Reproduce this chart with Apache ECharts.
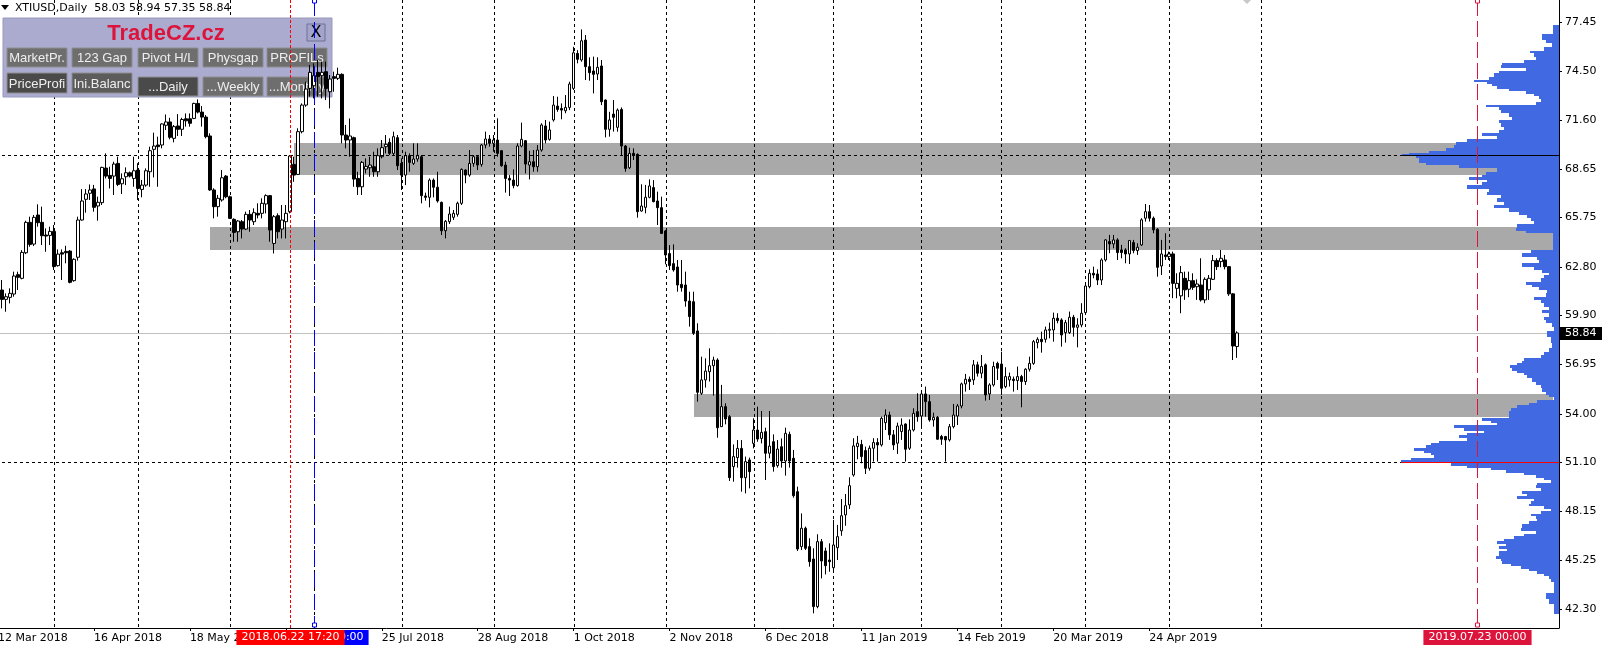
<!DOCTYPE html>
<html><head><meta charset="utf-8">
<script src="https://cdn.jsdelivr.net/npm/echarts@6/dist/echarts.min.js"></script>
<style>html,body{margin:0;padding:0;background:#fff;overflow:hidden;}#c{position:absolute;left:-5px;top:0;width:1610px;height:646px;}</style>
</head><body><div id="c"></div>
<script>
// ---------- DATA ----------
const startDate = '2018-03-12';
const firstCandleDate = '2018-03-13';
const holidays = ['2018-03-30','2018-12-25','2019-01-01','2019-04-19'];
const categoryCount = 391;
const symbolTitle = 'XTIUSD,Daily';
// daily candles [open, high, low, close]
const candles = [
[61.41,62.01,60.31,60.85],[60.85,61.21,60.11,61.01],[60.97,61.51,60.61,61.21],[61.17,62.51,61.01,62.25],[62.33,62.51,61.41,62.17],
[62.11,63.80,62.05,63.66],[63.64,65.56,63.56,65.46],[65.46,65.80,64.00,64.14],[64.16,65.90,64.04,65.76],[65.90,66.54,65.20,65.44],
[65.46,66.40,64.10,64.66],[64.70,65.10,63.70,64.64],[64.68,65.20,64.10,64.92],[64.92,65.30,62.61,62.81],[62.87,63.84,62.81,63.56],
[63.64,63.84,62.01,63.56],[63.72,64.06,63.01,63.64],[63.74,63.80,61.81,61.87],[61.97,63.31,61.91,63.25],[63.37,65.80,63.17,65.60],
[65.60,67.45,65.56,66.74],[66.84,67.45,66.04,67.16],[67.20,67.73,66.80,67.40],[67.46,67.70,66.10,66.36],[66.44,67.00,65.56,66.66],
[66.64,68.79,66.50,68.75],[68.71,69.59,68.09,68.23],[68.27,68.79,67.49,68.09],[68.23,69.09,67.10,68.95],[68.99,69.39,67.63,67.73],
[67.77,68.39,67.16,68.07],[68.19,68.75,67.69,68.43],[68.43,68.50,68.15,68.23],[68.09,69.39,67.59,68.55],[68.59,69.00,66.80,67.49],
[67.43,68.00,66.96,67.69],[67.69,68.69,67.59,68.55],[68.49,69.99,67.59,69.75],[69.83,70.83,68.15,70.03],[70.09,70.59,67.59,69.99],
[70.09,71.39,69.89,71.35],[71.27,71.92,70.99,71.47],[71.47,71.72,70.43,70.55],[70.49,71.29,70.25,71.19],[71.23,71.94,70.63,71.03],
[71.03,71.72,70.63,71.62],[71.66,71.98,71.19,71.54],[71.66,71.98,71.19,71.39],[71.68,72.62,71.64,72.58],[72.58,72.82,71.98,72.06],
[72.06,72.42,71.19,71.76],[71.76,71.88,70.49,70.59],[70.63,70.79,67.35,67.40],[67.40,67.50,65.70,66.40],[66.40,67.10,65.80,66.90],
[66.80,68.59,66.70,68.13],[68.23,68.29,66.90,66.99],[66.99,67.06,65.66,65.70],[65.64,65.70,64.30,64.86],[64.90,65.60,64.30,65.54],
[65.50,65.60,64.50,65.06],[65.06,66.10,65.00,65.94],[65.94,66.20,64.90,65.60],[65.50,66.30,65.30,66.04],[66.00,66.60,65.70,65.90],
[66.00,66.90,65.70,66.60],[66.56,67.14,66.00,67.06],[67.06,67.10,64.30,65.00],[64.20,65.90,63.60,65.80],[65.86,66.00,64.50,64.90],
[65.06,66.50,64.50,65.60],[65.50,66.50,64.50,66.00],[66.10,69.49,66.00,69.43],[68.93,69.39,67.89,68.29],[68.33,71.09,68.29,70.89],
[70.89,72.58,70.79,72.48],[72.48,73.88,72.38,73.44],[73.48,74.88,72.98,74.44],[73.64,74.98,72.88,74.24],[74.44,75.18,72.98,74.18],
[74.24,75.08,72.88,74.44],[74.48,75.08,72.78,73.48],[73.28,74.28,72.28,74.04],[74.18,74.48,73.28,74.08],[74.08,74.72,73.98,74.32],
[74.32,74.38,70.19,70.69],[70.69,71.29,69.89,70.39],[70.39,71.68,69.39,70.63],[70.53,70.59,67.59,68.05],[68.09,68.49,67.10,67.59],
[67.59,69.13,67.10,69.05],[68.65,69.29,68.39,68.81],[68.73,69.39,68.19,68.89],[68.79,69.69,68.19,68.49],[68.49,69.89,68.19,69.45],
[69.39,70.39,69.29,69.93],[69.99,70.69,69.59,70.13],[70.25,70.49,69.49,69.59],[69.59,70.89,69.49,70.59],[70.53,70.69,68.59,68.85],
[68.99,69.29,67.40,68.29],[68.29,69.69,67.69,69.45],[69.45,69.59,68.49,69.05],[68.99,70.19,68.89,69.25],[69.25,70.19,69.09,69.45],
[69.39,69.49,66.60,67.06],[67.04,67.24,66.76,66.96],[66.96,68.09,66.36,67.99],[67.99,68.09,66.96,67.56],[67.56,68.49,66.64,66.74],
[66.66,66.70,64.70,64.96],[64.96,65.60,64.50,65.52],[65.50,66.40,65.36,65.96],[65.76,66.20,65.60,66.00],[65.94,66.70,65.80,66.60],
[66.60,68.69,66.50,68.63],[68.59,68.63,67.80,68.29],[68.29,69.79,68.19,68.99],[68.99,69.49,68.79,69.39],[69.39,69.49,68.59,68.89],
[68.93,70.15,68.79,70.09],[70.09,70.89,69.89,70.45],[70.45,70.69,69.99,70.19],[70.19,70.69,69.69,70.39],[70.39,71.69,69.39,69.59],
[69.75,69.79,68.79,68.85],[68.89,69.09,67.24,68.09],[68.09,68.29,67.04,67.99],[67.99,68.63,67.50,67.66],[67.66,70.19,67.60,70.03],
[70.03,71.43,69.95,70.43],[70.35,70.39,68.39,68.95],[68.89,69.75,68.03,69.09],[69.09,69.79,68.49,68.79],[68.79,70.09,68.49,69.79],
[69.79,71.39,69.69,71.29],[71.23,71.59,70.19,70.39],[70.43,71.49,70.35,70.99],[71.59,73.02,71.49,72.48],[72.42,72.98,72.08,72.22],
[72.28,72.58,71.63,72.18],[72.14,73.08,71.99,72.34],[72.34,73.88,72.18,73.74],[73.48,75.97,73.38,75.61],[75.57,75.77,74.98,75.22],
[75.18,77.01,75.08,76.33],[76.37,76.67,73.98,74.78],[74.78,75.34,73.94,74.42],[74.52,75.38,73.18,74.32],[74.34,75.34,73.98,74.74],
[74.82,75.18,72.48,72.68],[72.78,72.82,70.55,71.03],[71.03,72.08,70.59,71.59],[71.94,72.78,70.89,71.75],[71.15,72.28,70.89,72.18],
[72.22,72.34,69.49,70.03],[70.03,70.09,68.49,68.69],[68.73,69.93,68.65,69.59],[69.59,69.89,69.19,69.49],[69.53,69.59,65.74,66.10],
[66.14,67.74,66.10,66.44],[66.36,67.70,66.00,66.96],[66.96,68.03,66.90,67.64],[67.54,67.99,66.66,66.70],[66.74,67.30,65.30,66.34],
[66.34,67.00,64.80,64.80],[64.94,65.00,62.95,63.51],[63.59,64.10,62.61,62.87],[62.99,64.14,62.51,62.61],[62.79,63.21,61.31,61.71],
[61.75,63.21,61.31,61.55],[61.71,62.51,60.41,60.75],[60.75,61.31,59.22,59.82],[60.71,61.31,58.72,58.82],[58.96,59.42,54.73,55.29],
[55.23,57.42,55.13,56.03],[56.03,57.32,55.57,56.56],[56.52,57.92,55.93,56.88],[56.88,57.42,55.09,57.22],[57.22,57.32,52.57,53.17],
[53.23,55.73,53.23,54.43],[54.43,54.63,53.37,53.69],[53.83,53.93,49.98,50.18],[50.84,52.17,49.94,51.44],[51.38,52.43,50.78,51.93],
[51.93,52.43,49.34,50.18],[50.18,51.44,49.24,51.14],[51.24,51.38,49.54,50.54],[52.23,53.73,51.93,53.03],[53.03,54.43,52.33,52.49],
[52.53,54.17,52.23,52.89],[52.93,53.17,50.04,51.64],[51.64,54.17,51.34,52.07],[52.33,52.77,50.54,50.84],[50.90,52.43,50.78,51.89],
[52.03,52.53,50.78,51.18],[51.18,53.17,50.30,52.83],[52.77,52.93,50.78,51.18],[51.34,51.84,48.98,49.10],[49.34,49.64,45.79,45.91],
[46.05,48.04,45.85,47.15],[47.15,47.25,45.85,45.95],[46.05,46.55,44.85,45.15],[45.31,45.95,42.06,42.46],[42.46,46.79,42.36,46.35],
[46.35,46.51,44.15,45.19],[45.79,45.99,44.39,44.91],[45.25,46.25,44.55,45.15],[44.79,47.65,44.55,46.15],[45.99,47.35,45.25,46.65],
[47.00,48.90,46.70,47.90],[47.95,49.20,47.30,48.50],[48.55,50.20,48.30,49.70],[50.34,52.54,50.24,52.08],[52.04,52.68,51.28,52.24],
[52.16,52.44,51.04,51.44],[51.80,52.04,50.40,50.74],[50.74,52.10,50.60,51.94],[51.94,52.54,51.14,52.28],[52.28,52.54,51.14,52.14],
[52.14,53.83,52.04,53.73],[53.47,54.27,53.03,53.93],[53.93,54.13,52.44,52.74],[52.74,53.03,51.84,52.14],[52.24,53.47,51.60,53.27],
[52.94,53.73,52.44,53.33],[53.39,53.43,51.14,51.88],[51.94,53.67,51.84,53.03],[53.03,54.33,52.94,54.03],[54.13,55.23,53.53,53.83],
[53.87,55.27,53.23,55.19],[55.19,55.63,53.83,54.73],[54.73,55.13,53.53,53.63],[53.63,54.07,53.23,53.79],[53.79,53.87,52.44,52.48],
[52.64,52.74,52.14,52.48],[52.64,52.68,51.14,52.44],[52.44,53.39,52.34,53.23],[53.23,54.59,53.13,53.93],[53.87,54.59,53.33,54.47],
[54.47,55.87,54.33,55.79],[55.79,56.39,55.33,56.07],[56.07,56.23,55.43,55.93],[56.03,57.22,55.73,56.93],[56.93,57.12,56.23,56.43],
[56.43,57.52,56.13,56.83],[56.93,57.02,54.79,55.13],[55.19,55.83,54.83,55.73],[55.73,57.12,55.63,56.83],[57.02,57.12,56.03,56.73],
[56.98,57.72,55.13,55.53],[55.63,56.79,55.53,56.23],[56.03,56.47,55.63,56.23],[56.07,56.23,55.33,55.99],[55.99,56.83,55.43,56.23],
[56.23,56.33,54.39,55.93],[55.93,56.73,55.73,56.67],[56.67,57.42,56.53,57.02],[57.02,58.42,56.93,58.32],[58.26,58.58,57.92,58.46],
[58.46,58.92,57.66,58.32],[58.46,59.22,58.26,59.02],[59.00,59.46,58.52,59.06],[59.02,60.06,58.32,59.72],[59.72,60.02,59.42,59.58],
[59.62,59.72,58.02,58.72],[58.86,59.62,58.26,59.46],[58.86,60.12,58.78,59.78],[59.78,59.92,58.62,59.18],[59.18,59.72,57.98,59.32],
[59.32,60.62,59.18,60.02],[60.06,61.71,59.98,61.65],[61.61,62.65,61.51,62.41],[62.41,62.81,62.11,62.31],[62.37,62.65,61.71,62.01],
[62.01,63.31,61.71,63.21],[63.21,64.45,63.11,64.41],[64.31,64.71,63.61,64.17],[64.17,64.71,63.91,64.41],[64.41,64.51,63.21,63.65],
[63.81,64.11,63.31,63.65],[63.81,63.91,63.01,63.57],[63.57,64.41,62.97,64.37],[64.25,64.41,63.61,63.77],[63.77,64.21,63.51,63.97],
[64.11,65.71,64.05,65.61],[65.71,66.56,65.51,66.10],[66.10,66.50,65.51,65.71],[65.71,65.81,64.81,65.01],[65.05,65.11,62.21,62.77],
[62.85,64.41,62.31,63.57],[63.51,64.81,63.21,63.41],[63.41,63.71,63.21,63.57],[63.57,63.71,60.92,61.81],[61.51,62.41,60.92,61.81],
[61.06,62.85,60.02,62.45],[62.11,62.51,60.82,61.42],[61.46,62.51,60.98,61.97],[61.97,62.41,61.42,61.57],[61.61,62.05,60.82,61.77],
[61.71,63.31,60.72,60.82],[60.82,62.17,60.62,62.05],[61.42,62.31,60.82,62.11],[62.05,63.51,62.01,63.17],[63.17,63.31,62.61,62.81],
[63.11,63.81,62.77,63.31],[63.21,63.51,62.65,62.81],[62.81,62.85,61.06,61.18],[61.18,61.22,57.22,58.06],[58.03,58.94,57.35,58.84]
];
const priceTicks = [77.45,74.50,71.60,68.65,65.75,62.80,59.90,56.95,54.00,51.10,48.15,45.25,42.30];
const dateLabels = ['2018-03-12','2018-04-16','2018-05-18','2018-06-21','2018-07-25','2018-08-28','2018-10-01','2018-11-02','2018-12-06','2019-01-11','2019-02-14','2019-03-20','2019-04-24'];
const gridDates = ['2018-04-02','2018-05-01','2018-06-01','2018-07-02','2018-08-01','2018-09-03','2018-10-01','2018-11-01','2018-12-03','2019-01-02','2019-02-01','2019-03-01','2019-04-01','2019-05-01','2019-06-03'];
// supply/demand zones: [start date, end date, low, high]
const zones = [
  ['2018-06-25','2019-09-12',68.30,70.22],
  ['2018-05-25','2019-09-12',63.83,65.21],
  ['2018-11-12','2019-09-12',53.80,55.16]
];
const pocLevels = [69.49, 51.10];
const pocColors = ['#000000','#FF0000'];
const lastPrice = 58.84;
// vertical line objects
const vLineDates = ['2018-07-02','2018-06-22','2019-08-16'];
const vLineTexts = ['2018.07.02 00:00','2018.06.22 17:20','2019.07.23 00:00'];
// volume profile (price level, volume)
const profilePrices = [77.01,76.47,76.27,76.07,75.81,75.67,75.48,75.28,75.08,74.94,74.78,74.58,74.48,74.28,74.08,73.94,73.82,73.68,73.54,73.38,73.22,73.08,72.94,72.78,72.58,72.42,72.28,72.08,71.88,71.68,71.49,71.29,71.09,70.89,70.69,70.55,70.35,70.19,69.99,69.83,69.69,69.59,69.49,69.39,69.23,69.09,68.95,68.79,68.59,68.39,68.23,68.09,67.95,67.78,67.56,67.40,67.20,67.00,66.80,66.60,66.40,66.20,66.00,65.80,65.60,65.44,65.24,65.04,64.90,64.70,64.50,64.30,64.10,63.90,63.70,63.50,63.31,63.11,62.91,62.71,62.51,62.37,62.21,62.01,61.81,61.65,61.51,61.31,61.11,60.91,60.71,60.51,60.31,60.11,59.91,59.71,59.51,59.32,59.12,58.82,58.42,58.02,57.82,57.62,57.42,57.26,57.12,56.98,56.82,56.66,56.52,56.38,56.22,56.02,55.82,55.62,55.42,55.23,55.07,54.89,54.73,54.59,54.43,54.27,54.07,53.83,53.67,53.53,53.39,53.23,53.07,52.93,52.79,52.63,52.47,52.33,52.19,52.03,51.87,51.73,51.60,51.44,51.28,51.14,50.97,50.84,50.68,50.54,50.40,50.24,50.08,49.94,49.80,49.64,49.44,49.28,49.14,49.00,48.84,48.68,48.54,48.40,48.24,48.08,47.94,47.81,47.65,47.49,47.29,47.09,46.89,46.75,46.61,46.45,46.29,46.15,46.01,45.85,45.69,45.55,45.41,45.25,45.09,44.95,44.81,44.65,44.49,44.35,44.21,44.01,43.81,43.46,43.06,42.76,42.46,42.16];
const profileVolumes = [5.7,16.7,12.7,6.7,15,29.3,25,23.3,35,56.7,58.3,33.3,60,65,70,85,71.7,66.7,61.7,50,33.3,25,20,18.3,23.3,73.3,60,58.3,50,46.7,60,58.3,55,60,76.7,61.7,91.7,103.3,105,113.3,130,150,156.7,143.3,140,140,133.3,100,61.7,73.3,76.7,90,71.7,76.7,91.7,70,71.7,58.3,61.7,55,65,50,40,31.7,28.3,25,41.7,43.3,33.3,5.7,5.7,5.7,5.7,5.7,28,36.7,21.7,20,36.7,25,16.7,10,15,18.3,33.3,26.7,20,11.7,13.3,25,18.3,15,10,16.7,10,15,13.3,6.7,5,11.7,8.3,6.7,10,15,18.3,35,36.7,41.7,49,46.7,41.7,35,31.7,26.7,23.3,18.3,16.7,13.3,10,5,21.7,30,41.7,48.3,50,50,76.7,68.3,61.7,105,95,75,91.7,100,91.7,120,128.3,133.3,145,135,128.3,125,148.3,157.7,108.3,91.7,68.3,53.3,35,23.3,15,8.3,21.7,23.3,18.3,36.7,31.7,41.7,25,28.3,30,15,8.3,18.3,28.3,23.3,21.7,30,36.7,38.3,23.3,35,45,55,61.7,53.3,60,51.7,60,60,63.3,58.3,56.7,48.3,38.3,30,21.7,15,10,8.3,5,5,13.3,10,5,5];
const panelTitle = 'TradeCZ.cz';
const panelButtons = [['MarketPr.','123 Gap','Pivot H/L','Physgap','PROFILs'],['PriceProfile','Ini.Balance','...Daily','...Weekly','...Monthly']];

// ---------- BUILD ----------
const FONT = '"DejaVu Sans", sans-serif';
const OX = 5; // chart canvas starts 5px left of the page
function buildCategories(){
  const out=[]; const d=new Date(startDate+'T00:00:00Z');
  while(out.length<categoryCount){
    const s=d.toISOString().slice(0,10), w=d.getUTCDay();
    if(w!==0&&w!==6&&holidays.indexOf(s)<0) out.push(s);
    d.setUTCDate(d.getUTCDate()+1);
  }
  return out;
}
const categories = buildCategories();
const ci = s => categories.indexOf(s);
const c0 = ci(firstCandleDate);
const candleData = categories.map((c,i)=>{
  const k=i-c0; if(k<0||k>=candles.length) return '-';
  const r=candles[k]; return [r[0],r[3],r[2],r[1]];
});
const MON=['Jan','Feb','Mar','Apr','May','Jun','Jul','Aug','Sep','Oct','Nov','Dec'];
const fmtDate = s => { const p=s.split('-'); return (+p[2])+' '+MON[+p[1]-1]+' '+p[0]; };
const labelSet = new Set(dateLabels);
const showLabel = (idx, val) => labelSet.has(val);

const profileData = profilePrices.map((p,k)=>{
  const up = k===0 ? p+(p-profilePrices[1])/2 : (profilePrices[k-1]+p)/2;
  const dn = k===profilePrices.length-1 ? p-(profilePrices[k-1]-p)/2 : (p+profilePrices[k+1])/2;
  return [profileVolumes[k], dn, up];
});
function volAt(price){
  let best=0, bd=1e9;
  profilePrices.forEach((p,k)=>{const d=Math.abs(p-price); if(d<bd){bd=d;best=profileVolumes[k];}});
  return best;
}
const last = candles[candles.length-1];
const headerText = symbolTitle+'  '+last.map(v=>v.toFixed(2)).join(' ');

const GRID_W = 1564;
const chart = echarts.init(document.getElementById('c'), null, {renderer:'canvas', width:1610, height:646});

// panel graphic (page coordinates + OX)
const els = [];
els.push({type:'rect', z:3, shape:{x:OX+3,y:18,width:329,height:79}, style:{fill:'#AAABCF', stroke:'#9899BE', lineWidth:1}});
els.push({type:'text', z:3, style:{text:panelTitle, x:OX+166, y:34, font:'bold 22px "Liberation Sans", Arial, sans-serif', fill:'#DC143C', align:'center', verticalAlign:'middle'}});
els.push({type:'rect', z:3, shape:{x:OX+307,y:24,width:18,height:17}, style:{fill:'#A3A4CA', stroke:'#6F7096', lineWidth:1}});
els.push({type:'text', z:3, style:{text:'X', x:OX+316, y:33, font:'16px "DejaVu Sans", sans-serif', fill:'#000', align:'center', verticalAlign:'middle'}});
const bxs=[7,72,138,203,267];
const rowStyle=[
  [{y:48,h:19,f:'#6E6E6E'},{y:48,h:19,f:'#6E6E6E'},{y:48,h:19,f:'#6E6E6E'},{y:48,h:19,f:'#6E6E6E'},{y:48,h:19,f:'#6E6E6E'}],
  [{y:73,h:20,f:'#4A4A4A'},{y:73,h:20,f:'#5C5C5C'},{y:77,h:19,f:'#4A4A4A'},{y:77,h:19,f:'#6E6E6E'},{y:77,h:19,f:'#6E6E6E'}]
];
panelButtons.forEach((row,r)=>row.forEach((t,k)=>{
  const s=rowStyle[r][k];
  els.push({type:'rect', z:3, shape:{x:OX+bxs[k],y:s.y,width:60,height:s.h}, style:{fill:s.f, stroke:'#8E8E8E', lineWidth:1}});
  els.push({type:'text', z:3, style:{text:t, x:OX+bxs[k]+30, y:s.y+s.h/2+1, width:60, overflow:'truncate', ellipsis:'', font:'13px "Liberation Sans", Arial, sans-serif', fill:'#EEEEEE', align:'center', verticalAlign:'middle'}});
}));
els.push({type:'polygon', z:10, shape:{points:[[OX+1,5],[OX+9,5],[OX+5,10]]}, style:{fill:'#000'}});
els.push({type:'text', z:10, style:{text:headerText, x:OX+15, y:8, font:'11px '+FONT, fill:'#000', verticalAlign:'middle'}});
els.push({type:'polygon', z:10, shape:{points:[[OX+1243,0],[OX+1247,-4],[OX+1251,0],[OX+1247,4]]}, style:{fill:'#C8C8C8'}});

const option = {
  animation:false,
  backgroundColor:'#ffffff',
  grid:{left:0, right:46, top:0, bottom:18, containLabel:false},
  xAxis:[{
    type:'category', data:categories, boundaryGap:true,
    axisLine:{show:true, onZero:false, lineStyle:{color:'#000', width:1}},
    axisTick:{show:true, interval:showLabel, alignWithLabel:true, length:3, lineStyle:{color:'#000'}},
    axisLabel:{interval:showLabel, formatter:fmtDate, align:'left', color:'#000', fontFamily:FONT, fontSize:11, margin:5},
    splitLine:{show:false}
  },{
    type:'value', min:0, max:GRID_W, inverse:true, show:false, position:'top'
  }],
  yAxis:[{
    type:'value', position:'right', min:41.18, max:78.77,
    axisLine:{show:true, lineStyle:{color:'#000', width:1}},
    axisTick:{show:true, customValues:priceTicks, length:3, lineStyle:{color:'#000'}},
    axisLabel:{customValues:priceTicks, formatter:v=>v.toFixed(2), color:'#000', fontFamily:FONT, fontSize:11, margin:6},
    splitLine:{show:false}
  }],
  graphic:{elements:els},
  series:[
    { // zones
      type:'custom', z:0, silent:true, xAxisIndex:0, yAxisIndex:0,
      data: zones.map(z=>[ci(z[0]), ci(z[1]), z[3], z[2]]),
      encode:{x:[0,1], y:[2,3]},
      renderItem:(params, api)=>{
        const a=api.coord([api.value(0), api.value(2)]);
        const b=api.coord([api.value(1), api.value(3)]);
        const x=Math.round(a[0]), y=Math.round(a[1]);
        return {type:'rect', shape:{x:x, y:y, width:Math.round(b[0])-x, height:Math.round(b[1])-y}, style:{fill:'#A9A9A9'}};
      }
    },
    { // vertical month grid lines
      type:'custom', z:1, silent:true, xAxisIndex:0, yAxisIndex:0,
      data: gridDates.map(d=>[ci(d), 60]),
      encode:{x:0, y:1},
      renderItem:(params, api)=>{
        const cs=params.coordSys; const x=Math.round(api.coord([api.value(0), 60])[0])+0.5;
        return {type:'line', shape:{x1:x, y1:cs.y, x2:x, y2:cs.y+cs.height}, style:{stroke:'#000', lineWidth:1, lineDash:[3,3]}};
      }
    },
    { // current price line
      type:'custom', z:1, silent:true, xAxisIndex:0, yAxisIndex:0,
      data:[[0, lastPrice]], encode:{x:0, y:1},
      renderItem:(params, api)=>{
        const cs=params.coordSys; const y=Math.round(api.coord([0, api.value(1)])[1])+0.5;
        return {type:'line', shape:{x1:cs.x, y1:y, x2:cs.x+cs.width, y2:y}, style:{stroke:'#C0C0C0', lineWidth:1}};
      }
    },
    { // volume profile
      type:'custom', z:4, silent:true, xAxisIndex:1, yAxisIndex:0,
      data: profileData, encode:{x:0, y:[1,2]},
      renderItem:(params, api)=>{
        const a=api.coord([api.value(0), api.value(2)]);
        const b=api.coord([0, api.value(1)]);
        const x=Math.round(a[0]), y=Math.round(a[1]);
        return {type:'rect', shape:{x:x, y:y, width:Math.round(b[0])-x, height:Math.max(1,Math.round(b[1])-y)}, style:{fill:'#4169E1'}};
      }
    },
    { // POC levels
      type:'custom', z:6, silent:true, xAxisIndex:1, yAxisIndex:0,
      data: pocLevels.map((p,k)=>[volAt(p), p, k]), encode:{x:0, y:1},
      renderItem:(params, api)=>{
        const cs=params.coordSys; const k=api.value(2);
        const a=api.coord([api.value(0), api.value(1)]); const y=Math.round(a[1])+0.5;
        return {type:'group', children:[
          {type:'line', shape:{x1:cs.x, y1:y, x2:a[0], y2:y}, style:{stroke:'#000', lineWidth:1, lineDash:[3,3]}},
          {type:'line', shape:{x1:a[0], y1:y, x2:cs.x+cs.width, y2:y}, style:{stroke:pocColors[k], lineWidth:1}}
        ]};
      }
    },
    { // candles
      type:'candlestick', z:5, data:candleData, barWidth:3, silent:true,
      itemStyle:{color:'#FFFFFF', color0:'#000000', borderColor:'#000000', borderColor0:'#000000', borderWidth:1}
    },
    { // vertical line objects
      type:'custom', z:7, silent:true, xAxisIndex:0, yAxisIndex:0, clip:false,
      data: vLineDates.map((d,k)=>[ci(d), 60, k]), encode:{x:0, y:1},
      renderItem:(params, api)=>{
        const cs=params.coordSys; const k=api.value(2);
        const x=Math.round(api.coord([api.value(0), 60])[0])+0.5;
        const col=['#0000FF','#FF0000','#DC143C'][k];
        const dash=[[16,6],[3,2],[16,5]][k];
        const bot=cs.y+cs.height;
        const ch=[{type:'line', z2:k*10, shape:{x1:x, y1:cs.y, x2:x, y2:bot}, style:{stroke:col, lineWidth:1, lineDash:dash}}];
        if(k!==1){
          ch.push({type:'rect', z2:k*10+1, shape:{x:x-2, y:cs.y-1, width:4, height:4}, style:{fill:'#fff', stroke:col, lineWidth:1}});
          ch.push({type:'rect', z2:k*10+1, shape:{x:x-2, y:bot-5, width:4, height:4}, style:{fill:'#fff', stroke:col, lineWidth:1}});
        }
        ch.push({type:'text', z2:k*10+2, style:{text:vLineTexts[k], x:x, y:bot+2, font:'11px '+FONT, fill:'#FFFFFF', backgroundColor:col, padding:[2,5,2,5], align:'center', verticalAlign:'top'}});
        return {type:'group', children:ch};
      }
    }
  ]
};
chart.setOption(option);

// last price tag on the price scale
const yLast = chart.convertToPixel({yAxisIndex:0}, lastPrice);
chart.setOption({graphic:{elements: els.concat([
  {type:'rect', z:10, shape:{x:OX+1560, y:Math.round(yLast)-6, width:42, height:13}, style:{fill:'#000'}},
  {type:'text', z:11, style:{text:lastPrice.toFixed(2), x:OX+1565, y:Math.round(yLast)+0.5, font:'11px '+FONT, fill:'#fff', verticalAlign:'middle'}}
])}});
</script>
</body></html>
